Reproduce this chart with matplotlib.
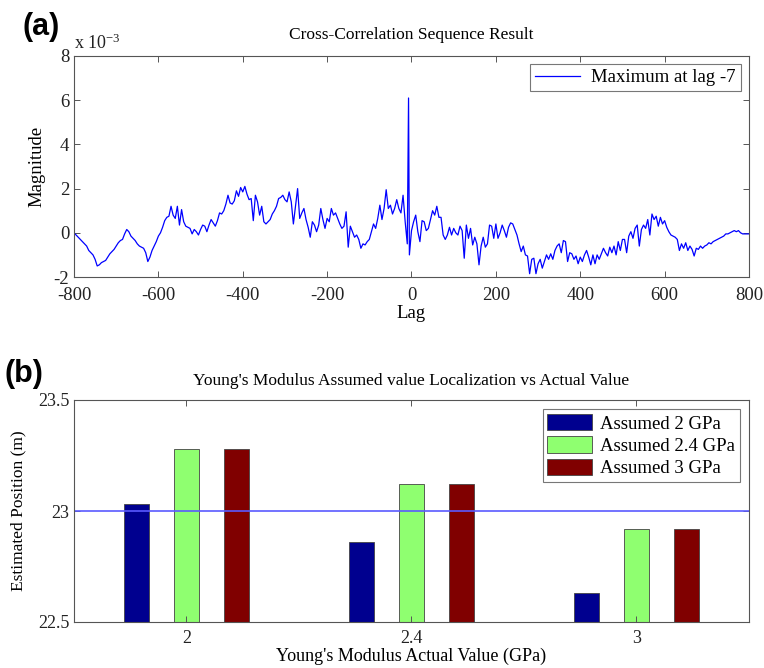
import numpy as np
import matplotlib as mpl
mpl.use('Agg')
import matplotlib.pyplot as plt

plt.rcParams['font.family'] = ['Liberation Serif', 'DejaVu Serif']
plt.rcParams['mathtext.fontset'] = 'stix'
plt.rcParams['axes.unicode_minus'] = False

# ---- panel (a): cross-correlation, values in units of 1e-3, read every 5 lags
xcorr = [
    0.0, -0.1, -0.2, -0.3, -0.4, -0.5, -0.6, -0.8, -0.9, -1.0,
    -1.2, -1.5, -1.45, -1.35, -1.3, -1.25, -1.1, -0.95, -0.85, -0.75,
    -0.6, -0.45, -0.35, -0.3, -0.05, 0.15, 0.05, -0.15, -0.25, -0.35,
    -0.5, -0.6, -0.65, -0.7, -0.9, -1.3, -1.1, -0.8, -0.6, -0.4,
    -0.15, 0.0, 0.25, 0.55, 0.7, 0.75, 1.2, 0.8, 0.65, 1.2,
    0.35, 1.05, 0.5, 0.3, 0.25, 0.2, -0.05, 0.15, 0.05, -0.1,
    0.15, 0.35, 0.3, 0.05, 0.35, 0.6, 0.45, 0.3, 0.55, 0.9,
    0.85, 1.0, 1.3, 1.7, 1.35, 1.3, 1.45, 1.9, 1.65, 2.05,
    1.85, 2.1, 1.75, 1.5, 1.55, 0.55, 1.7, 1.4, 0.8, 1.2,
    0.5, 0.4, 0.5, 0.6, 0.85, 1.0, 1.2, 1.55, 1.6, 1.7,
    1.5, 1.4, 1.85, 1.4, 0.4, 1.2, 2.0, 0.65, 0.9, 1.1,
    0.6, 0.25, -0.2, 0.5, 0.35, 0.05, 0.35, 1.1, 0.6, 0.2,
    0.65, 0.5, 1.1, 0.8, 0.9, 0.65, 0.4, 0.2, 0.3, 0.95,
    -0.65, 0.3, 0.05, -0.2, -0.1, -0.3, -0.7, -0.5, -0.55, -0.4,
    -0.3, 0.05, 0.4, 0.2, 0.65, 1.25, 0.6, 1.1, 1.95, 1.1,
    1.25, 0.85, 1.1, 1.5, 1.1, 0.9, 1.7, 0.5, -0.5, -1.0,
    0.1, 0.5, 0.8, 0.05, -0.4, 0.55, 0.5, 0.1, 0.2, 0.6,
    1.0, 0.8, 1.2, 0.7, 0.7, -0.1, -0.3, -0.1, 0.25, -0.1,
    0.2, 0.0, -0.1, 0.3, 0.1, -1.15, 0.35, -0.25, 0.2, -0.55,
    -0.2, -0.5, -1.45, -0.6, -0.2, -0.65, -0.5, 0.35, 0.3, -0.25,
    0.4, -0.25, 0.0, 0.35, 0.1, -0.2, 0.25, 0.45, 0.4, 0.15,
    -0.1, -0.5, -0.85, -0.6, -1.0, -1.05, -1.85, -1.2, -1.15, -1.85,
    -1.4, -1.2, -1.6, -1.3, -1.0, -1.2, -0.95, -1.2, -0.8, -0.6,
    -0.5, -0.9, -0.35, -0.4, -1.3, -0.9, -0.95, -1.2, -1.05, -1.4,
    -1.1, -1.3, -1.0, -0.8, -1.1, -1.45, -1.0, -1.4, -1.0, -1.2,
    -0.95, -0.7, -0.9, -1.05, -0.65, -0.9, -0.6, -1.0, -0.4, -0.8,
    -0.3, -0.3, -0.9, -0.15, 0.05, -0.25, 0.2, 0.35, -0.6, 0.15,
    0.35, 0.2, 0.6, -0.1, 0.85, 0.6, 0.75, 0.3, 0.7, 0.4,
    0.55, 0.25, 0.05, -0.1, -0.15, -0.2, -0.3, -0.8, -0.5, -0.7,
    -0.45, -0.8, -0.6, -0.75, -1.05, -0.7, -0.75, -0.6, -0.7, -0.6,
    -0.55, -0.45, -0.5, -0.4, -0.35, -0.3, -0.25, -0.2, -0.15, -0.05,
    -0.05, 0.0, 0.05, 0.1, 0.05, 0.1, 0.0, -0.05, -0.05, -0.05,
    -0.05,
]
peak_lag = -7
peak_val = 6.1

# ---- panel (b): grouped bars
actual_labels = ['2', '2.4', '3']
series_names = ['Assumed 2 GPa', 'Assumed 2.4 GPa', 'Assumed 3 GPa']
assumed_2 = [23.03, 22.86, 22.63]
assumed_24 = [23.28, 23.12, 22.92]
assumed_3 = [23.28, 23.12, 22.92]
true_pos = 23.0

bar_colors = ['#00008f', '#8fff70', '#800000']

lags = list(np.arange(-800, 801, 5))
assert len(lags) == len(xcorr)
i = lags.index(-5)
lags.insert(i, peak_lag)
xcorr.insert(i, peak_val)
lags = np.array(lags)
vals = np.array(xcorr) * 1e-3

fig = plt.figure(figsize=(7.64, 6.68), dpi=100)
W, H = 764.0, 668.0


def style_axes(ax, xpad=7):
    for s in ax.spines.values():
        s.set_color('#555555')
        s.set_linewidth(0.8)
    ax.tick_params(direction='in', length=4, width=0.7, colors='#555555',
                   labelcolor='#222222', labelsize=13.5, top=True, right=True)
    ax.tick_params(axis='x', pad=xpad)


ax1 = fig.add_axes([74 / W, 1 - 277 / H, 675 / W, 221 / H])
ax1.plot(lags, vals, color='#0000ff', lw=0.9, label='Maximum at lag -7')
ax1.set_xlim(-800, 800)
ax1.set_ylim(-2e-3, 8e-3)
ax1.set_xticks(np.arange(-800, 801, 200))
ax1.set_yticks(np.arange(-2e-3, 8.1e-3, 2e-3))
ax1.set_yticklabels(['-2', '0', '2', '4', '6', '8'])
style_axes(ax1)
ax1.set_xlabel('Lag', fontsize=13.5, labelpad=1)
ax1.set_ylabel('Magnitude', fontsize=13.5, labelpad=6)
ax1.set_title('Cross-Correlation Sequence Result', fontsize=12.5, pad=12)
ax1.text(0.0, 1.012, r'x 10$^{\mathregular{-3}}$', transform=ax1.transAxes,
         fontsize=13, ha='left', va='bottom', color='#222222')
leg1 = ax1.legend(loc='upper right', fontsize=13.5, fancybox=False,
                  edgecolor='#555555', borderaxespad=0.45, handlelength=2.4,
                  borderpad=0.25, handletextpad=0.6)
leg1.get_frame().set_linewidth(0.8)

ax2 = fig.add_axes([74 / W, 1 - 622 / H, 675 / W, 222 / H])
x = np.arange(1, len(actual_labels) + 1)
width = 0.111
offset = 0.222
for k, (vals_b, name) in enumerate(zip([assumed_2, assumed_24, assumed_3], series_names)):
    base = 22.5
    ax2.bar(x + (k - 1) * offset, np.array(vals_b) - base, width, bottom=base,
            color=bar_colors[k], edgecolor='#444444', linewidth=0.6, label=name)
ax2.axhline(true_pos, color='#5a5aff', lw=1.2)
ax2.set_xlim(0.5, 3.5)
ax2.set_ylim(22.5, 23.5)
ax2.set_xticks(x)
ax2.set_xticklabels(actual_labels)
ax2.set_yticks([22.5, 23, 23.5])
ax2.set_yticklabels(['22.5', '23', '23.5'])
style_axes(ax2, xpad=6)
ax2.tick_params(labelsize=13)
ax2.set_xlabel("Young's Modulus Actual Value (GPa)", fontsize=13, labelpad=0)
ax2.set_ylabel('Estimated Position (m)', fontsize=12.5, labelpad=8)
ax2.set_title("Young's Modulus Assumed value Localization vs Actual Value",
              fontsize=12.5, pad=11)
leg2 = ax2.legend(loc='upper right', fontsize=13.5, fancybox=False,
                  edgecolor='#555555', borderaxespad=0.5, handlelength=2.4,
                  handleheight=0.95, borderpad=0.25, handletextpad=0.4,
                  labelspacing=0.2)
leg2.get_frame().set_linewidth(0.8)

fig.text(22 / W, 1 - 27 / H, '(a)', fontsize=22, fontweight='bold',
         family='Liberation Sans', ha='left', va='center')
fig.text(5 / W, 1 - 374 / H, '(b)', fontsize=22, fontweight='bold',
         family='Liberation Sans', ha='left', va='center')

fig.savefig('out.png', dpi=100)
